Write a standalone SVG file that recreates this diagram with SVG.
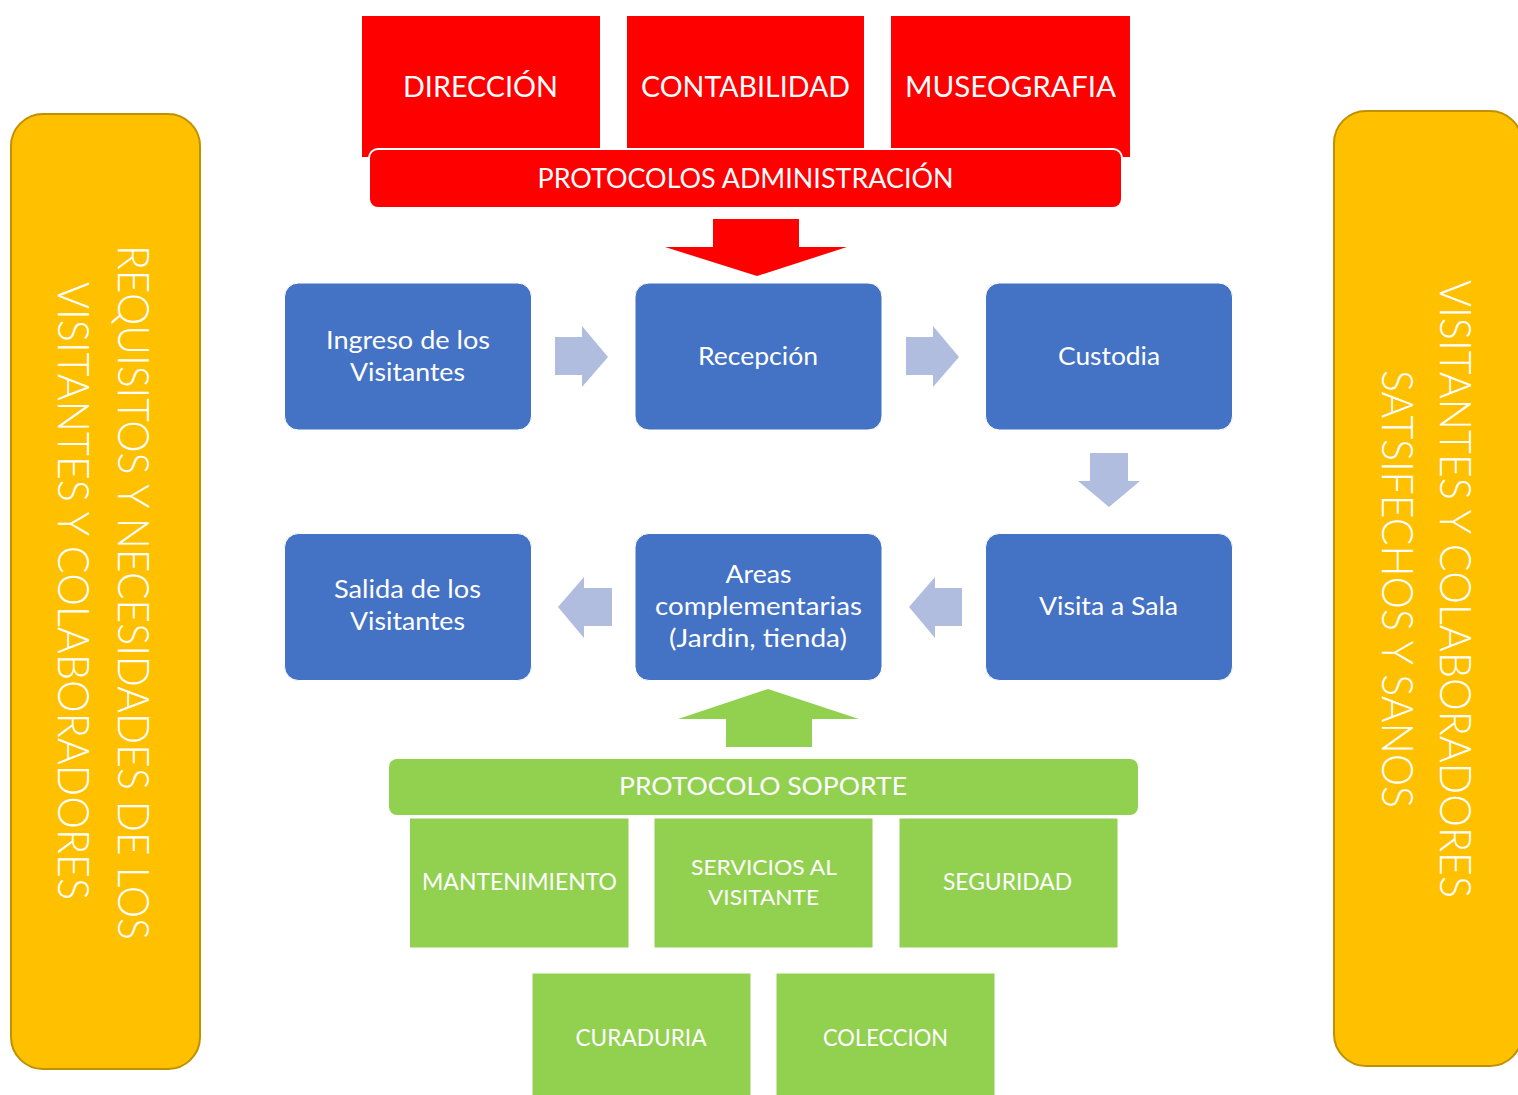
<svg xmlns="http://www.w3.org/2000/svg" width="1518" height="1095" viewBox="0 0 1518 1095">
<style>
.t{font-family:Lato,"Open Sans","Liberation Sans",sans-serif;fill:#fff;text-anchor:middle}
.side{fill:#FFC000;stroke:#BF9000;stroke-width:2}
.sideT{font-family:Lato,"Open Sans","Liberation Sans",sans-serif;fill:#fff;text-anchor:middle;font-size:43px;font-weight:300}
.red{fill:#FF0000}
.redbar{fill:#FF0000;stroke:#fff;stroke-width:2}
.blue{fill:#4472C4;stroke:#fff;stroke-width:1}
.green{fill:#92D050;stroke:#fff;stroke-width:1}
.arr{fill:#B0BDDF}
</style>
<rect width="1518" height="1095" fill="#fff"/>

<g id="requisitos">
<rect class="side" x="11" y="114" width="189" height="955" rx="32"/>
<text class="sideT" transform="translate(118,592.5) rotate(90)" textLength="695" lengthAdjust="spacingAndGlyphs">REQUISITOS Y NECESIDADES DE LOS</text>
<text class="sideT" transform="translate(58,591) rotate(90)" textLength="618" lengthAdjust="spacingAndGlyphs">VISITANTES Y COLABORADORES</text>
</g>

<g id="satisfechos">
<rect class="side" x="1334" y="111" width="188" height="955" rx="32"/>
<text class="sideT" transform="translate(1440,589) rotate(90)" textLength="618" lengthAdjust="spacingAndGlyphs">VISITANTES Y COLABORADORES</text>
<text class="sideT" transform="translate(1382,589) rotate(90)" textLength="438" lengthAdjust="spacingAndGlyphs">SATSIFECHOS Y SANOS</text>
</g>

<g id="direccion">
<rect class="red" x="362" y="16" width="238" height="141"/>
<text class="t" x="480.5" y="97" font-size="29" textLength="155" lengthAdjust="spacingAndGlyphs">DIRECCIÓN</text>
</g>
<g id="contabilidad">
<rect class="red" x="627" y="16" width="237" height="141"/>
<text class="t" x="745.5" y="97" font-size="29" textLength="209" lengthAdjust="spacingAndGlyphs">CONTABILIDAD</text>
</g>
<g id="museografia">
<rect class="red" x="891" y="16" width="239" height="141"/>
<text class="t" x="1010.5" y="97" font-size="29" textLength="211" lengthAdjust="spacingAndGlyphs">MUSEOGRAFIA</text>
</g>
<g id="protocolos-administracion">
<rect class="redbar" x="369" y="149" width="753" height="59" rx="9"/>
<text class="t" x="745.5" y="188" font-size="27" textLength="416" lengthAdjust="spacingAndGlyphs">PROTOCOLOS ADMINISTRACIÓN</text>
</g>

<g id="connectors">
<polygon fill="#FF0000" points="713,219 799,219 799,247 847,247 757,276 665,247 713,247"/>
<polygon class="arr" points="555,337 582,337 582,326 608,357 582,387 582,375 555,375"/>
<polygon class="arr" points="906,337 933,337 933,326 959,357 933,387 933,375 906,375"/>
<polygon class="arr" points="1090,453 1128,453 1128,481 1140,481 1109,507 1078,481 1090,481"/>
<polygon class="arr" points="962,588 935,588 935,577 909,607 935,638 935,626 962,626"/>
<polygon class="arr" points="612,588 584,588 584,577 558,607 584,638 584,626 612,626"/>
<polygon fill="#92D050" points="726,747 812,747 812,719 859,719 768,689 678,719 726,719"/>
</g>

<g id="ingreso">
<rect class="blue" x="284.5" y="283" width="247" height="147" rx="14"/>
<text class="t" x="408" y="349" font-size="25" textLength="164" lengthAdjust="spacingAndGlyphs">Ingreso de los</text>
<text class="t" x="407.5" y="381" font-size="25" textLength="115" lengthAdjust="spacingAndGlyphs">Visitantes</text>
</g>
<g id="recepcion">
<rect class="blue" x="635" y="283" width="247" height="147" rx="14"/>
<text class="t" x="758" y="365" font-size="25" textLength="120" lengthAdjust="spacingAndGlyphs">Recepción</text>
</g>
<g id="custodia">
<rect class="blue" x="985.5" y="283" width="247" height="147" rx="14"/>
<text class="t" x="1109" y="365" font-size="25" textLength="102" lengthAdjust="spacingAndGlyphs">Custodia</text>
</g>
<g id="visita-sala">
<rect class="blue" x="985.5" y="533.5" width="247" height="147" rx="14"/>
<text class="t" x="1108.5" y="615" font-size="25" textLength="139" lengthAdjust="spacingAndGlyphs">Visita a Sala</text>
</g>
<g id="areas">
<rect class="blue" x="635" y="533.5" width="247" height="147" rx="14"/>
<text class="t" x="758.5" y="583" font-size="25" textLength="66" lengthAdjust="spacingAndGlyphs">Areas</text>
<text class="t" x="758.5" y="615" font-size="25" textLength="207" lengthAdjust="spacingAndGlyphs">complementarias</text>
<text class="t" x="758" y="647" font-size="25" textLength="178" lengthAdjust="spacingAndGlyphs">(Jardin, tienda)</text>
</g>
<g id="salida">
<rect class="blue" x="284.5" y="533.5" width="247" height="147" rx="14"/>
<text class="t" x="407.5" y="598" font-size="25" textLength="147" lengthAdjust="spacingAndGlyphs">Salida de los</text>
<text class="t" x="407.5" y="630" font-size="25" textLength="115" lengthAdjust="spacingAndGlyphs">Visitantes</text>
</g>

<g id="protocolo-soporte">
<rect fill="#92D050" stroke="#fff" stroke-width="2" x="388" y="758" width="751" height="58" rx="9"/>
<text class="t" x="763" y="795" font-size="25.5" textLength="288" lengthAdjust="spacingAndGlyphs">PROTOCOLO SOPORTE</text>
</g>
<g id="mantenimiento">
<rect class="green" x="409.5" y="818" width="219.5" height="130"/>
<text class="t" x="519.5" y="890" font-size="23" textLength="195" lengthAdjust="spacingAndGlyphs">MANTENIMIENTO</text>
</g>
<g id="servicios">
<rect class="green" x="654" y="818" width="219" height="130"/>
<text class="t" x="764" y="875" font-size="21" textLength="146" lengthAdjust="spacingAndGlyphs">SERVICIOS AL</text>
<text class="t" x="763.5" y="905" font-size="21" textLength="111" lengthAdjust="spacingAndGlyphs">VISITANTE</text>
</g>
<g id="seguridad">
<rect class="green" x="899" y="818" width="219" height="130"/>
<text class="t" x="1007.5" y="890" font-size="23" textLength="129" lengthAdjust="spacingAndGlyphs">SEGURIDAD</text>
</g>
<g id="curaduria">
<rect class="green" x="532" y="973" width="219" height="125"/>
<text class="t" x="641" y="1046" font-size="23" textLength="131" lengthAdjust="spacingAndGlyphs">CURADURIA</text>
</g>
<g id="coleccion">
<rect class="green" x="776" y="973" width="219" height="125"/>
<text class="t" x="885.5" y="1046" font-size="23" textLength="125" lengthAdjust="spacingAndGlyphs">COLECCION</text>
</g>
</svg>
